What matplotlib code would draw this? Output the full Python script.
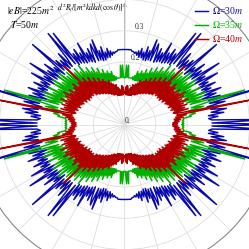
import numpy as np
import matplotlib
matplotlib.use("Agg")
import matplotlib.pyplot as plt

plt.rcParams['font.family'] = ['Liberation Serif', 'DejaVu Serif']
plt.rcParams['mathtext.fontset'] = 'stix'

# angles (deg) of one quadrant, the rest is mirrored
theta_q = list(range(0, 91))

# Omega = 40m (red)
r_40 = [0.155, 0.17, 0.155, 0.175, 0.16, 0.18, 0.16, 0.19, 0.165, 0.2,
        0.17, 0.44, 0.17, 0.16, 0.21, 0.165, 0.2, 0.155, 0.21, 0.16,
        0.2, 0.15, 0.22, 0.155, 0.2, 0.15, 0.21, 0.145, 0.22, 0.15,
        0.2, 0.14, 0.21, 0.145, 0.19, 0.135, 0.2, 0.14, 0.21, 0.135,
        0.19, 0.14, 0.2, 0.135, 0.27, 0.14, 0.19, 0.13, 0.2, 0.13,
        0.18, 0.125, 0.19, 0.125, 0.17, 0.12, 0.18, 0.12, 0.16, 0.115,
        0.17, 0.115, 0.155, 0.11, 0.16, 0.11, 0.15, 0.105, 0.145, 0.105,
        0.15, 0.1, 0.14, 0.1, 0.135, 0.1, 0.13, 0.095, 0.13, 0.095,
        0.12, 0.095, 0.115, 0.095, 0.11, 0.095, 0.125, 0.095, 0.12, 0.1, 0.1]

# Omega = 35m (green)
r_35 = [0.185, 0.19, 0.185, 0.19, 0.185, 0.19, 0.19, 0.215, 0.21, 0.23,
        0.215, 0.25, 0.21, 0.26, 0.22, 0.27, 0.4, 0.22, 0.26, 0.21,
        0.27, 0.2, 0.28, 0.21, 0.25, 0.2, 0.27, 0.2, 0.24, 0.19,
        0.26, 0.2, 0.27, 0.19, 0.24, 0.19, 0.26, 0.185, 0.27, 0.19,
        0.24, 0.18, 0.25, 0.18, 0.26, 0.18, 0.23, 0.175, 0.24, 0.17,
        0.22, 0.17, 0.24, 0.165, 0.21, 0.16, 0.22, 0.16, 0.2, 0.155,
        0.21, 0.155, 0.19, 0.15, 0.2, 0.15, 0.18, 0.145, 0.19, 0.145,
        0.175, 0.145, 0.18, 0.145, 0.17, 0.145, 0.175, 0.145, 0.16, 0.145,
        0.155, 0.15, 0.15, 0.15, 0.15, 0.15, 0.19, 0.15, 0.19, 0.15, 0.15]

# Omega = 30m (blue)
r_30 = [0.48, 0.28, 0.47, 0.28, 0.27, 0.3, 0.27, 0.32, 0.28, 0.33,
        0.28, 0.31, 0.27, 0.33, 0.28, 0.44, 0.28, 0.32, 0.26, 0.31,
        0.27, 0.33, 0.26, 0.3, 0.27, 0.32, 0.26, 0.3, 0.27, 0.34,
        0.26, 0.3, 0.26, 0.36, 0.26, 0.3, 0.25, 0.32, 0.26, 0.29,
        0.25, 0.39, 0.26, 0.3, 0.25, 0.29, 0.25, 0.31, 0.25, 0.28,
        0.38, 0.25, 0.37, 0.24, 0.28, 0.24, 0.29, 0.235, 0.27, 0.23,
        0.3, 0.23, 0.26, 0.225, 0.27, 0.22, 0.26, 0.28, 0.22, 0.29,
        0.22, 0.25, 0.215, 0.26, 0.215, 0.24, 0.22, 0.25, 0.22, 0.24,
        0.225, 0.235, 0.23, 0.235, 0.235, 0.24, 0.24, 0.24, 0.24, 0.24, 0.24]

labels = [r'$\Omega$=30$m$', r'$\Omega$=35$m$', r'$\Omega$=40$m$']
colors = ['#0a0aaa', '#00b000', '#b00000']


def full_circle(r):
    # mirror the quadrant to the other three (picture is symmetric)
    t = np.array(theta_q, dtype=float)
    r = np.array(r)
    tt = np.concatenate([t, 180 - t[::-1], 180 + t, 360 - t[::-1]])
    rr = np.concatenate([r, r[::-1], r, r[::-1]])
    return np.deg2rad(tt), rr


fig = plt.figure(figsize=(2.49, 2.49), dpi=100)
R_PIX = 150 / 249
ax = fig.add_axes([0.5 - R_PIX, 0.5 - R_PIX, 2 * R_PIX, 2 * R_PIX], projection='polar')
ax.set_axisbelow(True)

for r, c, lab in zip([r_30, r_35, r_40], colors, labels):
    t, rr = full_circle(r)
    ax.plot(t, rr, color=c, lw=1.05, label=lab)

ax.set_rlim(0, 0.48)
ax.set_rticks([0, 0.1, 0.2, 0.3, 0.4])
ax.set_yticklabels(['0.', '0.1', '0.2', '0.3', ''])
ax.set_rlabel_position(84)
ax.tick_params(axis='y', labelsize=5.5, labelcolor='#333333', pad=0)
ax.set_thetagrids(np.arange(0, 360, 15), labels=[])
ax.grid(color='#dddddd', lw=0.6)
ax.spines['polar'].set_color('#888888')
ax.spines['polar'].set_linewidth(0.8)

# radial axis arrow
ax.annotate('', xy=(np.pi / 2, 0.4), xytext=(np.pi / 2, 0),
            arrowprops=dict(arrowstyle='-|>', color='#aaaaaa', lw=0.6,
                            mutation_scale=6), zorder=0.5)

fig.text(0.495, 0.995, r'$d^2R_l/[m^2kdkd(\cos\theta)]$', ha='right', va='top', fontsize=5.5)
fig.text(0.03, 0.985, r'$|eB|$=225$m^2$', ha='left', va='top', fontsize=7)
fig.text(0.04, 0.925, r'$T$=50$m$', ha='left', va='top', fontsize=7)

leg = ax.legend(loc='upper right', bbox_to_anchor=(1.0, 1.0), bbox_transform=fig.transFigure,
                frameon=False, fontsize=7, handlelength=1.4, labelspacing=0.3,
                handletextpad=0.4, borderaxespad=0.15, labelcolor='linecolor')

fig.savefig('out.png', dpi=100)
